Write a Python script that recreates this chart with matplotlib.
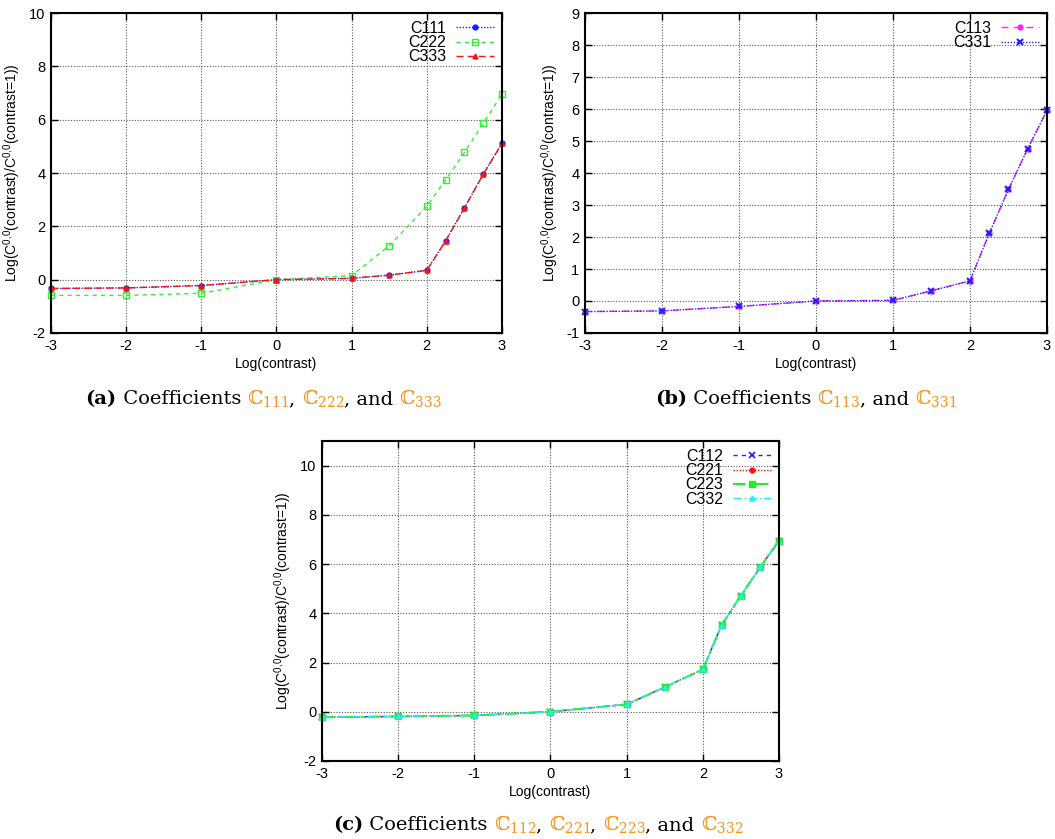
import matplotlib
matplotlib.use("Agg")
import matplotlib.pyplot as plt

plt.rcParams["font.family"] = ["Liberation Sans", "DejaVu Sans"]
plt.rcParams["axes.unicode_minus"] = False
plt.rcParams["mathtext.fontset"] = "custom"
plt.rcParams["mathtext.rm"] = "Liberation Sans"
plt.rcParams["mathtext.it"] = "Liberation Sans:italic"

# log(contrast) sample points
log_contrast = [-3, -2, -1, 0, 1, 1.5, 2, 2.25, 2.5, 2.75, 3]

# panel (a)
c111 = [-0.33, -0.31, -0.22, 0.0, 0.05, 0.17, 0.35, 1.45, 2.69, 3.95, 5.11]
c222 = [-0.59, -0.59, -0.51, 0.0, 0.15, 1.27, 2.75, 3.74, 4.77, 5.86, 6.95]
c333 = [-0.33, -0.31, -0.22, 0.0, 0.05, 0.17, 0.35, 1.45, 2.69, 3.95, 5.11]

# panel (b)
c113 = [-0.33, -0.31, -0.17, 0.0, 0.02, 0.32, 0.63, 2.11, 3.49, 4.76, 5.96]
c331 = [-0.33, -0.31, -0.17, 0.0, 0.02, 0.32, 0.63, 2.11, 3.49, 4.76, 5.96]

# panel (c)
c112 = [-0.22, -0.19, -0.15, 0.0, 0.30, 1.00, 1.72, 3.54, 4.72, 5.86, 6.95]
c221 = [-0.22, -0.19, -0.15, 0.0, 0.30, 1.00, 1.72, 3.54, 4.72, 5.86, 6.95]
c223 = [-0.22, -0.19, -0.15, 0.0, 0.30, 1.00, 1.72, 3.54, 4.72, 5.86, 6.95]
c332 = [-0.22, -0.19, -0.15, 0.0, 0.30, 1.00, 1.72, 3.54, 4.72, 5.86, 6.95]

YLABEL = r"Log(C$^{0{,}0}$(contrast)/C$^{0{,}0}$(contrast=1))"
ORANGE = "#f7931e"

fig = plt.figure(figsize=(10.55, 8.39), dpi=100)


def style_axes(ax, ylim, yticks):
    ax.set_xlim(-3, 3)
    ax.set_ylim(*ylim)
    ax.set_xticks(range(-3, 4))
    ax.set_yticks(yticks)
    ax.grid(True, color="0.35", linestyle=(0, (1, 1.5)), linewidth=0.8)
    ax.tick_params(direction="in", top=True, right=True, length=5, width=1,
                   labelsize=10.5, pad=4, colors="black")
    for s in ax.spines.values():
        s.set_linewidth(1.5)
    ax.set_xlabel("Log(contrast)", fontsize=10, labelpad=3)
    ax.set_ylabel(YLABEL, fontsize=10, labelpad=4)
    ax.legend(loc="upper right", frameon=False, markerfirst=False, fontsize=11.5,
              handlelength=2.4, handletextpad=0.6, labelspacing=-0.05,
              borderaxespad=0.1)


def caption(x_center, y, parts, size=14):
    # draw pieces left to right, then centre the whole line
    r = fig.canvas.get_renderer()
    texts = []
    for s, kw in parts:
        t = fig.text(0, y, s, fontsize=size, va="baseline", ha="left",
                     family="DejaVu Serif", math_fontfamily="dejavuserif", **kw)
        texts.append(t)
    widths = [t.get_window_extent(r).width / fig.bbox.width for t in texts]
    x = x_center - sum(widths) / 2
    for t, w in zip(texts, widths):
        t.set_x(x)
        x += w


# (a)
ax = fig.add_axes([0.0483, 0.6031, 0.4275, 0.3814])
ax.plot(log_contrast, c111, color="#1a1aff", linestyle=(0, (1, 1.2)), lw=1,
        marker="o", ms=3.5, label="C111", clip_on=False)
ax.plot(log_contrast, c222, color="#33ee33", linestyle=(0, (3, 3)), lw=1,
        marker="s", ms=5, mfc="none", mew=1, label="C222", clip_on=False)
ax.plot(log_contrast, c333, color="#ff1010", linestyle=(0, (5, 3)), lw=1,
        marker="^", ms=3.5, label="C333", clip_on=False)
style_axes(ax, (-2, 10), range(-2, 11, 2))

# (b)
ax = fig.add_axes([0.5545, 0.6031, 0.4379, 0.3814])
ax.plot(log_contrast, c113, color="#ff22ff", linestyle=(0, (5, 4)), lw=1,
        marker="o", ms=3.5, label="C113", clip_on=False)
ax.plot(log_contrast, c331, color="#2222ff", linestyle=(0, (1, 1.2)), lw=1,
        marker="x", ms=4, mew=1.5, label="C331", clip_on=False)
style_axes(ax, (-1, 9), range(-1, 10))

# (c)
ax = fig.add_axes([0.3052, 0.0930, 0.4332, 0.3814])
ax.plot(log_contrast, c112, color="#2222ff", linestyle=(0, (3, 3)), lw=1,
        marker="x", ms=4, mew=1.2, label="C112", clip_on=False)
ax.plot(log_contrast, c221, color="#ff1010", linestyle=(0, (1, 1.2)), lw=1,
        marker="o", ms=3.5, label="C221", clip_on=False)
ax.plot(log_contrast, c223, color="#22ee22", linestyle=(0, (6, 2, 1, 2)), lw=1.5,
        marker="s", ms=4.5, label="C223", clip_on=False)
ax.plot(log_contrast, c332, color="#22eeee", linestyle=(0, (6, 2, 1, 2)), lw=1,
        marker="^", ms=3.5, label="C332", clip_on=False)
style_axes(ax, (-2, 11), range(-2, 11, 2))

bold = {"weight": "bold"}
norm = {}
org = {"color": ORANGE}
caption(0.250, 1 - 404 / 839, [("(a)", bold), (" Coefficients ", norm),
                               (r"ℂ$_{111}$", org), (", ", norm),
                               (r"ℂ$_{222}$", org), (", and ", norm),
                               (r"ℂ$_{333}$", org)])
caption(0.764, 1 - 404 / 839, [("(b)", bold), (" Coefficients ", norm),
                               (r"ℂ$_{113}$", org), (", and ", norm),
                               (r"ℂ$_{331}$", org)])
caption(0.510, 1 - 830 / 839, [("(c)", bold), (" Coefficients ", norm),
                               (r"ℂ$_{112}$", org), (", ", norm),
                               (r"ℂ$_{221}$", org), (", ", norm),
                               (r"ℂ$_{223}$", org), (", and ", norm),
                               (r"ℂ$_{332}$", org)])

fig.savefig("out.png", dpi=100)
